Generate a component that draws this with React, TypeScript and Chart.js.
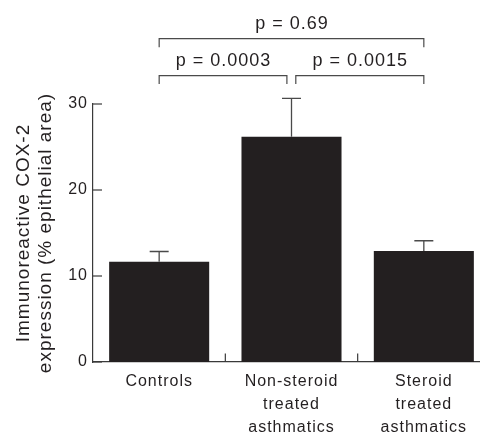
import React, { useEffect, useRef } from "react";
import { Chart, registerables } from "chart.js";

Chart.register(...registerables);

// ---- data ----
const categories: string[][] = [
  ["Controls"],
  ["Non-steroid", "treated", "asthmatics"],
  ["Steroid", "treated", "asthmatics"],
];
const means: number[] = [11.65, 26.2, 12.9];
const errors: number[] = [1.2, 4.45, 1.2];
const yMin = 0;
const yMax = 30;
const yStep = 10;
const yTitle: string[] = ["Immunoreactive COX-2", "expression (% epithelial area)"];

const bracketFrom: number[] = [0, 1, 0];
const bracketTo: number[] = [1, 2, 2];
const bracketLevel: number[] = [33.3, 33.3, 37.6];
const bracketLabels: string[] = ["p = 0.0003", "p = 0.0015", "p = 0.69"];

// ---- style ----
const FONT = "'Liberation Sans', Arial, Helvetica, sans-serif";
const BAR = "#231f20";
const TEXT = "#231f20";
const AXIS = "#3a3a3a";
const LINE = "#4a4a4a";

const overlay = {
  id: "overlay",
  beforeDraw(chart: any) {
    chart.ctx.letterSpacing = "1px";
  },
  afterDatasetsDraw(chart: any) {
    const ctx = chart.ctx as CanvasRenderingContext2D;
    const xs = chart.scales.x;
    const ys = chart.scales.y;
    const area = chart.chartArea;
    ctx.save();
    (ctx as any).letterSpacing = "1px";

    // error bars (upward only)
    ctx.strokeStyle = LINE;
    ctx.lineWidth = 1.3;
    means.forEach((m, i) => {
      const x = xs.getPixelForValue(i);
      const y0 = ys.getPixelForValue(m);
      const y1 = ys.getPixelForValue(m + errors[i]);
      ctx.beginPath();
      ctx.moveTo(x, y0);
      ctx.lineTo(x, y1);
      ctx.moveTo(x - 9.5, y1);
      ctx.lineTo(x + 9.5, y1);
      ctx.stroke();
    });

    // inward axis ticks
    ctx.strokeStyle = AXIS;
    ctx.lineWidth = 1.2;
    for (let v = yMin; v <= yMax; v += yStep) {
      const y = ys.getPixelForValue(v);
      ctx.beginPath();
      ctx.moveTo(area.left, y);
      ctx.lineTo(area.left + 9, y);
      ctx.stroke();
    }
    for (let i = 0; i < categories.length - 1; i++) {
      const x = (xs.getPixelForValue(i) + xs.getPixelForValue(i + 1)) / 2;
      ctx.beginPath();
      ctx.moveTo(x, area.bottom);
      ctx.lineTo(x, area.bottom - 8.5);
      ctx.stroke();
    }

    // significance brackets
    ctx.strokeStyle = LINE;
    ctx.lineWidth = 1.2;
    ctx.fillStyle = TEXT;
    ctx.font = `18px ${FONT}`;
    ctx.textAlign = "center";
    ctx.textBaseline = "alphabetic";
    bracketFrom.forEach((f, k) => {
      const t = bracketTo[k];
      const lvl = bracketLevel[k];
      const sharedLeft = bracketTo.some((tt, j) => j !== k && tt === f && bracketLevel[j] === lvl);
      const sharedRight = bracketFrom.some((ff, j) => j !== k && ff === t && bracketLevel[j] === lvl);
      const x1 = xs.getPixelForValue(f) + (sharedLeft ? 4.3 : 0);
      const x2 = xs.getPixelForValue(t) - (sharedRight ? 4.6 : 0);
      const y = ys.getPixelForValue(lvl);
      ctx.beginPath();
      ctx.moveTo(x1, y + 8.5);
      ctx.lineTo(x1, y);
      ctx.lineTo(x2, y);
      ctx.lineTo(x2, y + 8.5);
      ctx.stroke();
      ctx.fillText(bracketLabels[k], (x1 + x2) / 2 + 0.5, y - 9.8);
    });
    ctx.restore();
  },
};

export default function App() {
  const ref = useRef<HTMLCanvasElement>(null);
  useEffect(() => {
    const canvas = ref.current;
    if (!canvas) return;
    const chart = new Chart(canvas, {
      type: "bar",
      data: {
        labels: categories as any,
        datasets: [
          {
            data: means,
            backgroundColor: BAR,
            borderWidth: 0,
            barPercentage: 0.756,
            categoryPercentage: 1,
          },
        ],
      },
      options: {
        responsive: false,
        animation: false,
        events: [],
        layout: { padding: { top: 104, right: 10, bottom: 0, left: 0 } },
        plugins: { legend: { display: false }, tooltip: { enabled: false } },
        scales: {
          x: {
            grid: { display: false, drawTicks: false },
            border: { display: true, color: AXIS, width: 1.2 },
            ticks: {
              color: TEXT,
              font: { family: FONT, size: 16, lineHeight: 1.44 },
              padding: 8,
              maxRotation: 0,
              minRotation: 0,
              autoSkip: false,
            },
            afterFit: (s: any) => {
              s.height = 72;
            },
          },
          y: {
            min: yMin,
            max: yMax,
            grid: { display: false, drawTicks: false },
            border: { display: true, color: AXIS, width: 1.2 },
            ticks: {
              stepSize: yStep,
              color: TEXT,
              font: { family: FONT, size: 16 },
              padding: 5,
            },
            title: {
              display: true,
              text: yTitle,
              color: TEXT,
              font: { family: FONT, size: 19, lineHeight: 1.15 },
              padding: { top: 12.5, bottom: 0 },
            },
            afterFit: (s: any) => {
              s.width = 93;
            },
          },
        },
      },
      plugins: [overlay],
    });
    return () => chart.destroy();
  }, []);
  return (
    <div
      style={{
        position: "fixed",
        left: 0,
        top: 0,
        width: 480,
        height: 434,
        overflow: "hidden",
        background: "#fff",
      }}
    >
      <canvas ref={ref} width={500} height={434} style={{ width: 500, height: 434, display: "block" }} />
    </div>
  );
}
